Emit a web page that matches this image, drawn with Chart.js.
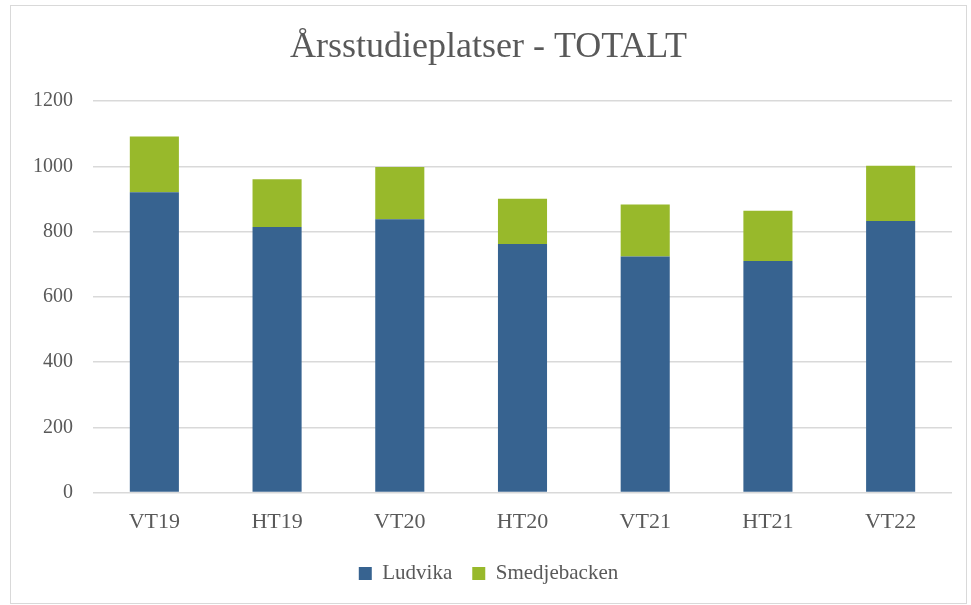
<!DOCTYPE html>
<html>
<head>
<meta charset="utf-8">
<script src="https://cdn.jsdelivr.net/npm/chart.js@4"></script>
<style>
  body { margin: 0; background: #fff; }
  #wrap { position: absolute; left: 10px; top: 5px; width: 955px; height: 597px; border: 1px solid #d9d9d9; }
</style>
</head>
<body>
<div id="wrap"><canvas id="chart" width="955" height="597"></canvas></div>
<script>
const terms = ["VT19", "HT19", "VT20", "HT20", "VT21", "HT21", "VT22"];
const ludvika = [921, 814, 838, 762, 724, 710, 833];
const smedjebacken = [171, 147, 160, 139, 159, 154, 169];

Chart.defaults.font.family = "'Liberation Serif', serif";
Chart.defaults.color = '#595959';

/// Stacked bar chart
const chart = new Chart("chart", {
    type: "bar",
    data: {
        labels: terms,
        datasets: [
            {
                label: "Ludvika",
                backgroundColor: "#376390",
                data: ludvika
            },
            {
                label: "Smedjebacken",
                backgroundColor: "#98b92b",
                data: smedjebacken
            }
        ]
    },
    options: {
        responsive: false,
        animation: false,
        layout: {
            padding: { left: 0, right: 0, top: 8, bottom: 9 }
        },
        plugins: {
            title: {
                display: true,
                text: "Årsstudieplatser - TOTALT",
                font: { size: 36, weight: 'normal' },
                color: '#595959',
                padding: { top: 12, bottom: 32 }
            },
            legend: {
                position: 'bottom',
                labels: {
                    boxWidth: 13,
                    boxHeight: 13,
                    font: { size: 21 },
                    padding: 20
                }
            },
            tooltip: { enabled: false }
        },
        datasets: {
            bar: { categoryPercentage: 1, barPercentage: 0.4 }
        },
        scales: {
            x: {
                stacked: true,
                grid: { display: false },
                border: { display: false },
                ticks: { font: { size: 22 }, padding: 8 }
            },
            y: {
                stacked: true,
                min: 0,
                max: 1200,
                afterFit: (s) => { s.width = 82; },
                grid: { color: '#d9d9d9', lineWidth: 1.5, drawTicks: false },
                border: { display: false },
                ticks: { stepSize: 200, font: { size: 20 }, padding: 20, callback: (v) => String(v) }
            },
            // empty spacer on the right so the title stays centred on the whole box
            spacer: {
                position: 'right',
                afterFit: (s) => { s.width = 14; },
                grid: { display: false },
                border: { display: false },
                ticks: { display: false }
            }
        }
    }
});
</script>
</body>
</html>
